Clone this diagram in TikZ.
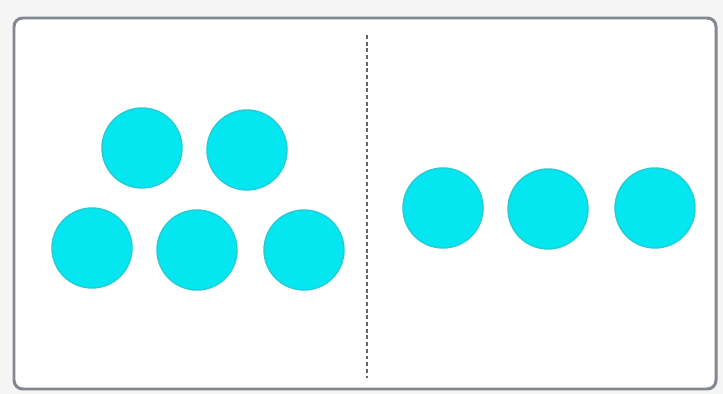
\documentclass[tikz,border=0pt]{standalone}
\usepackage{tikz}
\usetikzlibrary{positioning}
\definecolor{dotfill}{RGB}{4,230,240}
\definecolor{dotedge}{RGB}{36,204,212}
\definecolor{framegray}{RGB}{130,136,142}

\begin{document}
\begin{tikzpicture}[
    dot/.style={circle, fill=dotfill, draw=dotedge, line width=0.8pt, minimum size=1.6cm, inner sep=0pt},
    frame/.style={draw=framegray, line width=1.7pt, rounded corners=5pt, fill=white},
    divider/.style={draw=gray!80!black, dash pattern=on 2.2pt off 1.6pt, line width=0.8pt}
]
    \fill[gray!8] (0,0) rectangle (14.46,7.88);
    \draw[frame] (0.28,0.10) rectangle (14.32,7.52);

    \node[dot] (l1) at (2.84,4.92) {};
    \node[dot] (l2) at (4.94,4.88) {};
    \node[dot] (l3) at (1.84,2.92) {};
    \node[dot] (l4) at (3.94,2.88) {};
    \node[dot] (l5) at (6.08,2.88) {};

    \node[dot] (r1) at (8.86,3.72) {};
    \node[dot] (r2) at (10.96,3.70) {};
    \node[dot] (r3) at (13.10,3.72) {};

    \coordinate (top) at (7.34,7.18);
    \coordinate (bot) at (7.34,0.32);
    \draw[divider] (top) -- (bot);
\end{tikzpicture}
\end{document}
